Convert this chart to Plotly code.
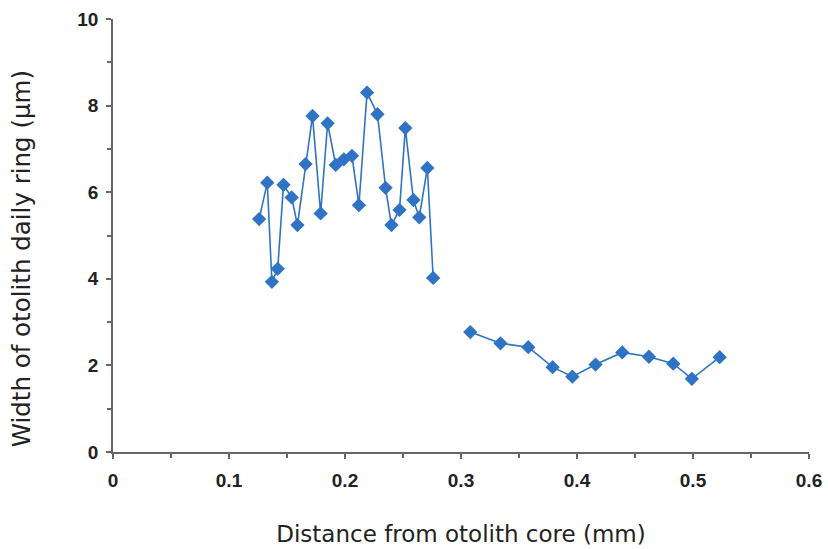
import plotly.graph_objects as go

# Segment 1: early growth rings
dist1 = [0.126, 0.133, 0.137, 0.142, 0.147, 0.154, 0.159, 0.166, 0.172, 0.179, 0.185,
         0.192, 0.199, 0.206, 0.212, 0.219, 0.228, 0.235, 0.240, 0.247, 0.252, 0.259,
         0.264, 0.271, 0.276]
width1 = [5.38, 6.22, 3.93, 4.23, 6.17, 5.88, 5.24, 6.65, 7.76, 5.51, 7.59,
          6.63, 6.76, 6.84, 5.70, 8.30, 7.80, 6.10, 5.24, 5.59, 7.48, 5.82,
          5.42, 6.56, 4.02]

# Segment 2: later growth rings
dist2 = [0.308, 0.334, 0.358, 0.379, 0.396, 0.416, 0.439, 0.462, 0.483, 0.499, 0.523]
width2 = [2.77, 2.51, 2.42, 1.96, 1.74, 2.02, 2.30, 2.20, 2.04, 1.69, 2.19]

x_ticks = [0, 0.1, 0.2, 0.3, 0.4, 0.5, 0.6]
x_labels = ["0", "0.1", "0.2", "0.3", "0.4", "0.5", "0.6"]
y_ticks = [0, 2, 4, 6, 8, 10]
y_labels = ["0", "2", "4", "6", "8", "10"]

blue = "#2f74c4"
fig = go.Figure()
for xs, ys in [(dist1, width1), (dist2, width2)]:
    fig.add_trace(go.Scatter(
        x=xs, y=ys, mode="lines+markers",
        line=dict(color=blue, width=1.6),
        marker=dict(symbol="diamond", size=11, color=blue),
        showlegend=False,
    ))

axis_common = dict(
    showgrid=False, zeroline=False, showline=True, linecolor="#666666", linewidth=1.5,
    ticks="outside", ticklen=5, tickcolor="#666666", tickwidth=1.5,
    tickfont=dict(family="Liberation Sans, Arial", size=19, color="#222222", weight="bold"),
    minor=dict(ticks="outside", ticklen=4, tickcolor="#666666", tickwidth=1.5),
    automargin=False,
)

fig.update_xaxes(
    range=[0, 0.6], tickvals=x_ticks, ticktext=x_labels,
    minor_dtick=0.05, ticklabelstandoff=5,
    title=dict(text="Distance from otolith core (mm)", standoff=36,
               font=dict(family="DejaVu Sans", size=23, color="#222222")),
    **axis_common,
)
fig.update_yaxes(
    range=[0, 10], tickvals=y_ticks, ticktext=y_labels,
    minor_dtick=1, ticklabelstandoff=4,
    **axis_common,
)

fig.add_annotation(
    text="Width of otolith daily ring (μm)", textangle=-90,
    xref="paper", yref="paper", x=-0.131, y=0.447,
    xanchor="center", yanchor="middle", showarrow=False,
    font=dict(family="DejaVu Sans", size=24.5, color="#222222"),
)

fig.update_layout(
    width=828, height=549,
    margin=dict(l=113, r=19, t=19, b=97),
    plot_bgcolor="white", paper_bgcolor="white",
)
fig.write_html("out.html")
